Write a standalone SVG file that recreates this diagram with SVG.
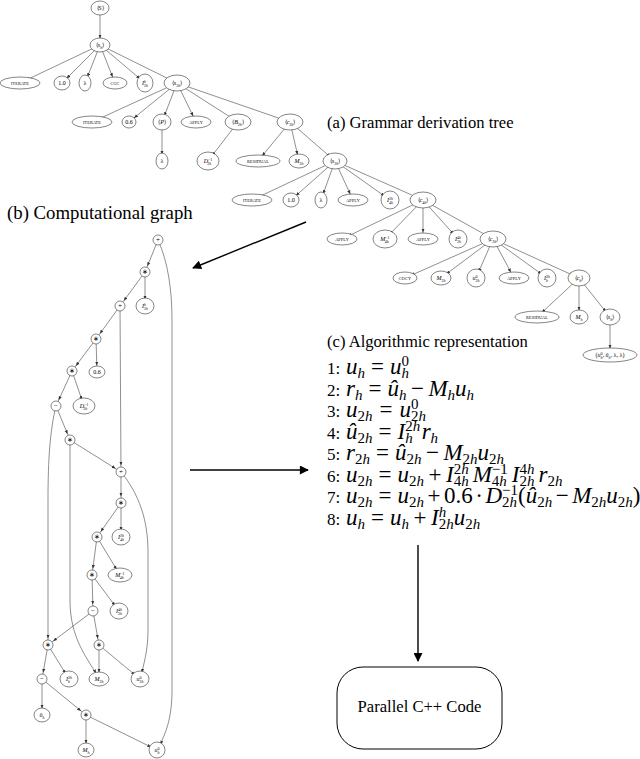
<svg xmlns="http://www.w3.org/2000/svg" width="640" height="759" viewBox="0 0 640 759">
<style>
.n{fill:#fff;stroke:#333;stroke-width:0.6}
.e{stroke:#444;stroke-width:0.6;fill:none;marker-end:url(#ah)}
.big{stroke:#000;stroke-width:1.4;fill:none;marker-end:url(#bh)}
.tc{font-family:"Liberation Serif",serif;font-size:4.3px;text-anchor:middle;letter-spacing:0.1px}
.tm{font-family:"Liberation Serif",serif;font-size:6px;text-anchor:middle}
.ts{font-size:4px}
.i{font-style:italic}
.op{font-family:"Liberation Serif",serif;font-size:7px;text-anchor:middle}
.h{font-family:"Liberation Serif",serif;font-size:16.6px}
.al{font-family:"Liberation Serif",serif;font-size:23px}
.sb{font-size:15px}
.num{font-size:17px}
</style>
<defs>
<marker id="ah" viewBox="0 0 10 10" refX="26" refY="5" markerWidth="4" markerHeight="4" markerUnits="userSpaceOnUse" orient="auto"><path d="M0,1L10,5L0,9z" fill="#333"/></marker>
<marker id="bh" viewBox="0 0 10 10" refX="9" refY="5" markerWidth="11" markerHeight="9" markerUnits="userSpaceOnUse" orient="auto"><path d="M0,0L10,5L0,10z" fill="#000"/></marker>
</defs>
<rect width="640" height="759" fill="#fff"/>

<g id="tree-edges">
<line class="e" x1="100" y1="8" x2="100" y2="45"/>
<line class="e" x1="100" y1="45" x2="20" y2="83"/>
<line class="e" x1="100" y1="45" x2="62" y2="83"/>
<line class="e" x1="100" y1="45" x2="85" y2="83"/>
<line class="e" x1="100" y1="45" x2="115" y2="83"/>
<line class="e" x1="100" y1="45" x2="145" y2="83"/>
<line class="e" x1="100" y1="45" x2="177" y2="83"/>
<line class="e" x1="177" y1="83" x2="92" y2="122"/>
<line class="e" x1="177" y1="83" x2="129" y2="122"/>
<line class="e" x1="177" y1="83" x2="162" y2="122"/>
<line class="e" x1="177" y1="83" x2="196" y2="122"/>
<line class="e" x1="177" y1="83" x2="238" y2="122"/>
<line class="e" x1="177" y1="83" x2="290" y2="122"/>
<line class="e" x1="162" y1="122" x2="162" y2="161"/>
<line class="e" x1="238" y1="122" x2="208" y2="161"/>
<line class="e" x1="290" y1="122" x2="258" y2="161"/>
<line class="e" x1="290" y1="122" x2="299" y2="161"/>
<line class="e" x1="290" y1="122" x2="335" y2="161"/>
<line class="e" x1="335" y1="161" x2="252" y2="200"/>
<line class="e" x1="335" y1="161" x2="291" y2="200"/>
<line class="e" x1="335" y1="161" x2="321" y2="200"/>
<line class="e" x1="335" y1="161" x2="353" y2="200"/>
<line class="e" x1="335" y1="161" x2="390" y2="200"/>
<line class="e" x1="335" y1="161" x2="423" y2="200"/>
<line class="e" x1="423" y1="200" x2="342" y2="239"/>
<line class="e" x1="423" y1="200" x2="385" y2="239"/>
<line class="e" x1="423" y1="200" x2="423" y2="239"/>
<line class="e" x1="423" y1="200" x2="458" y2="239"/>
<line class="e" x1="423" y1="200" x2="493" y2="239"/>
<line class="e" x1="493" y1="239" x2="405" y2="278"/>
<line class="e" x1="493" y1="239" x2="441" y2="278"/>
<line class="e" x1="493" y1="239" x2="476" y2="278"/>
<line class="e" x1="493" y1="239" x2="514" y2="278"/>
<line class="e" x1="493" y1="239" x2="547" y2="278"/>
<line class="e" x1="493" y1="239" x2="579" y2="278"/>
<line class="e" x1="579" y1="278" x2="537" y2="317"/>
<line class="e" x1="579" y1="278" x2="579" y2="317"/>
<line class="e" x1="579" y1="278" x2="610" y2="317"/>
<line class="e" x1="610" y1="317" x2="610" y2="355"/>
</g>

<g id="t-S"><ellipse class="n" cx="100" cy="8" rx="9" ry="7"/><text class="tm" x="100" y="10">⟨<tspan class="i">S</tspan>⟩</text></g>
<g id="t-sh"><ellipse class="n" cx="100" cy="45" rx="10" ry="7"/><text class="tm" x="100" y="47">⟨<tspan class="i">s</tspan><tspan class="ts i" dy="1.5">h</tspan><tspan dy="-1.5">⟩</tspan></text></g>
<g id="t-it1"><ellipse class="n" cx="20" cy="83" rx="20" ry="6"/><text class="tc" x="20" y="84.6">ITERATE</text></g>
<g id="t-n10a"><ellipse class="n" cx="62" cy="83" rx="8" ry="7"/><text class="tm" x="62" y="85">1.0</text></g>
<g id="t-lam1"><ellipse class="n" cx="85" cy="83" rx="6" ry="8"/><text class="tm" x="85" y="85">λ</text></g>
<g id="t-cgc"><ellipse class="n" cx="115" cy="83" rx="12" ry="6"/><text class="tc" x="115" y="84.6">CGC</text></g>
<g id="t-Ih2h"><ellipse class="n" cx="145" cy="83" rx="8" ry="9"/><text class="tm" x="145" y="85"><tspan class="i">I</tspan><tspan class="ts i" dy="-2.5">h</tspan><tspan class="ts" dx="-2" dy="4.5">2<tspan class="i">h</tspan></tspan></text></g>
<g id="t-s2h"><ellipse class="n" cx="177" cy="83" rx="13" ry="8"/><text class="tm" x="177" y="85">⟨<tspan class="i">s</tspan><tspan class="ts" dy="1.5">2<tspan class="i">h</tspan></tspan><tspan dy="-1.5">⟩</tspan></text></g>

<g id="t-it2"><ellipse class="n" cx="92" cy="122" rx="20" ry="6"/><text class="tc" x="92" y="123.6">ITERATE</text></g>
<g id="t-n06"><ellipse class="n" cx="129" cy="122" rx="7" ry="6"/><text class="tm" x="129" y="124">0.6</text></g>
<g id="t-P"><ellipse class="n" cx="162" cy="122" rx="9" ry="8"/><text class="tm" x="162" y="124">⟨<tspan class="i">P</tspan>⟩</text></g>
<g id="t-ap1"><ellipse class="n" cx="196" cy="122" rx="15" ry="6"/><text class="tc" x="196" y="123.6">APPLY</text></g>
<g id="t-B2h"><ellipse class="n" cx="238" cy="122" rx="13" ry="8"/><text class="tm" x="238" y="124">⟨<tspan class="i">B</tspan><tspan class="ts" dy="1.5">2<tspan class="i">h</tspan></tspan><tspan dy="-1.5">⟩</tspan></text></g>
<g id="t-c2h"><ellipse class="n" cx="290" cy="122" rx="13" ry="8"/><text class="tm" x="290" y="124">⟨<tspan class="i">c</tspan><tspan class="ts" dy="1.5">2<tspan class="i">h</tspan></tspan><tspan dy="-1.5">⟩</tspan></text></g>

<g id="t-lam2"><ellipse class="n" cx="162" cy="161" rx="6" ry="8"/><text class="tm" x="162" y="163">λ</text></g>
<g id="t-D2h"><ellipse class="n" cx="208" cy="161" rx="11" ry="9"/><text class="tm" x="208" y="163"><tspan class="i">D</tspan><tspan class="ts" dy="-2.5">−1</tspan><tspan class="ts" dx="-5" dy="4.5">2<tspan class="i">h</tspan></tspan></text></g>
<g id="t-res1"><ellipse class="n" cx="258" cy="161" rx="22" ry="6"/><text class="tc" x="258" y="162.6">RESIDUAL</text></g>
<g id="t-M2h"><ellipse class="n" cx="299" cy="161" rx="10" ry="7"/><text class="tm" x="299" y="163"><tspan class="i">M</tspan><tspan class="ts" dy="1.5">2<tspan class="i">h</tspan></tspan></text></g>
<g id="t-s2hb"><ellipse class="n" cx="335" cy="161" rx="12" ry="8"/><text class="tm" x="335" y="163">⟨<tspan class="i">s</tspan><tspan class="ts" dy="1.5">2<tspan class="i">h</tspan></tspan><tspan dy="-1.5">⟩</tspan></text></g>

<g id="t-it3"><ellipse class="n" cx="252" cy="200" rx="20" ry="6"/><text class="tc" x="252" y="201.6">ITERATE</text></g>
<g id="t-n10b"><ellipse class="n" cx="291" cy="200" rx="8" ry="7"/><text class="tm" x="291" y="202">1.0</text></g>
<g id="t-lam3"><ellipse class="n" cx="321" cy="200" rx="6" ry="8"/><text class="tm" x="321" y="202">λ</text></g>
<g id="t-ap2"><ellipse class="n" cx="353" cy="200" rx="15" ry="6"/><text class="tc" x="353" y="201.6">APPLY</text></g>
<g id="t-I2h4h"><ellipse class="n" cx="390" cy="200" rx="9" ry="9"/><text class="tm" x="390" y="202"><tspan class="i">I</tspan><tspan class="ts" dy="-2.5">2<tspan class="i">h</tspan></tspan><tspan class="ts" dx="-4" dy="4.5">4<tspan class="i">h</tspan></tspan></text></g>
<g id="t-c4h"><ellipse class="n" cx="423" cy="200" rx="13" ry="8"/><text class="tm" x="423" y="202">⟨<tspan class="i">c</tspan><tspan class="ts" dy="1.5">4<tspan class="i">h</tspan></tspan><tspan dy="-1.5">⟩</tspan></text></g>

<g id="t-ap3"><ellipse class="n" cx="342" cy="239" rx="15" ry="6"/><text class="tc" x="342" y="240.6">APPLY</text></g>
<g id="t-M4h"><ellipse class="n" cx="385" cy="239" rx="12" ry="9"/><text class="tm" x="385" y="241"><tspan class="i">M</tspan><tspan class="ts" dy="-2.5">−1</tspan><tspan class="ts" dx="-5" dy="4.5">4<tspan class="i">h</tspan></tspan></text></g>
<g id="t-ap4"><ellipse class="n" cx="423" cy="239" rx="15" ry="6"/><text class="tc" x="423" y="240.6">APPLY</text></g>
<g id="t-I4h2h"><ellipse class="n" cx="458" cy="239" rx="9" ry="9"/><text class="tm" x="458" y="241"><tspan class="i">I</tspan><tspan class="ts" dy="-2.5">4<tspan class="i">h</tspan></tspan><tspan class="ts" dx="-4" dy="4.5">2<tspan class="i">h</tspan></tspan></text></g>
<g id="t-c2hb"><ellipse class="n" cx="493" cy="239" rx="13" ry="8"/><text class="tm" x="493" y="241">⟨<tspan class="i">c</tspan><tspan class="ts" dy="1.5">2<tspan class="i">h</tspan></tspan><tspan dy="-1.5">⟩</tspan></text></g>

<g id="t-cocy"><ellipse class="n" cx="405" cy="278" rx="12" ry="6"/><text class="tc" x="405" y="279.6">COCY</text></g>
<g id="t-M2hb"><ellipse class="n" cx="441" cy="278" rx="10" ry="7"/><text class="tm" x="441" y="280"><tspan class="i">M</tspan><tspan class="ts" dy="1.5">2<tspan class="i">h</tspan></tspan></text></g>
<g id="t-u02h"><ellipse class="n" cx="476" cy="278" rx="9" ry="9"/><text class="tm" x="476" y="280"><tspan class="i">u</tspan><tspan class="ts" dy="-2.5">0</tspan><tspan class="ts" dx="-2" dy="4.5">2<tspan class="i">h</tspan></tspan></text></g>
<g id="t-ap5"><ellipse class="n" cx="514" cy="278" rx="15" ry="6"/><text class="tc" x="514" y="279.6">APPLY</text></g>
<g id="t-I2hh"><ellipse class="n" cx="547" cy="278" rx="9" ry="9"/><text class="tm" x="547" y="280"><tspan class="i">I</tspan><tspan class="ts" dy="-2.5">2<tspan class="i">h</tspan></tspan><tspan class="ts i" dx="-4" dy="4.5">h</tspan></text></g>
<g id="t-ch"><ellipse class="n" cx="579" cy="278" rx="11" ry="8"/><text class="tm" x="579" y="280">⟨<tspan class="i">c</tspan><tspan class="ts i" dy="1.5">h</tspan><tspan dy="-1.5">⟩</tspan></text></g>

<g id="t-res2"><ellipse class="n" cx="537" cy="317" rx="22" ry="6"/><text class="tc" x="537" y="318.6">RESIDUAL</text></g>
<g id="t-Mh"><ellipse class="n" cx="579" cy="317" rx="9" ry="7"/><text class="tm" x="579" y="319"><tspan class="i">M</tspan><tspan class="ts i" dy="1.5">h</tspan></text></g>
<g id="t-sh2"><ellipse class="n" cx="610" cy="317" rx="10" ry="8"/><text class="tm" x="610" y="319">⟨<tspan class="i">s</tspan><tspan class="ts i" dy="1.5">h</tspan><tspan dy="-1.5">⟩</tspan></text></g>
<g id="t-tup"><ellipse class="n" cx="610" cy="355" rx="27" ry="7"/><text class="tm" x="610" y="357">(<tspan class="i">u</tspan><tspan class="ts" dy="-2.5">0</tspan><tspan class="ts i" dx="-2" dy="4">h</tspan><tspan dy="-1.5">, </tspan><tspan class="i">û</tspan><tspan class="ts i" dy="1.5">h</tspan><tspan dy="-1.5">, λ, λ)</tspan></text></g>

<g id="headings">
<text class="h" x="327" y="128">(a) Grammar derivation tree</text>
<text class="h" x="7" y="219" style="font-size:18.8px">(b) Computational graph</text>
<text class="h" x="327" y="347">(c) Algorithmic representation</text>
</g>

<g id="graph-edges">
<line class="e" x1="158" y1="240" x2="145" y2="272"/>
<path class="e" d="M158,240 C168,262 172,290 172,320 L172,690 C172,718 166,734 157,750"/>
<line class="e" x1="145" y1="272" x2="120" y2="306"/>
<line class="e" x1="145" y1="272" x2="145" y2="306"/>
<line class="e" x1="120" y1="306" x2="96" y2="339"/>
<line class="e" x1="120" y1="306" x2="121" y2="472"/>
<line class="e" x1="96" y1="339" x2="72" y2="371"/>
<line class="e" x1="96" y1="339" x2="97" y2="372"/>
<line class="e" x1="72" y1="371" x2="56" y2="406"/>
<line class="e" x1="72" y1="371" x2="84" y2="406"/>
<line class="e" x1="56" y1="406" x2="70" y2="440"/>
<path class="e" d="M56,406 C50,430 48,460 48,500 L48,645"/>
<line class="e" x1="70" y1="440" x2="121" y2="472"/>
<path class="e" d="M70,440 L70,600 C70,640 88,658 99,679"/>
<line class="e" x1="121" y1="472" x2="121" y2="503"/>
<path class="e" d="M121,472 C139,494 148,520 148,552 L148,630 C148,650 144,664 140,679"/>
<line class="e" x1="121" y1="503" x2="97" y2="537"/>
<line class="e" x1="121" y1="503" x2="121" y2="537"/>
<line class="e" x1="97" y1="537" x2="92" y2="575"/>
<line class="e" x1="97" y1="537" x2="120" y2="575"/>
<line class="e" x1="92" y1="575" x2="93" y2="611"/>
<line class="e" x1="92" y1="575" x2="119" y2="611"/>
<line class="e" x1="93" y1="611" x2="48" y2="645"/>
<line class="e" x1="93" y1="611" x2="99" y2="645"/>
<line class="e" x1="48" y1="645" x2="42" y2="679"/>
<line class="e" x1="48" y1="645" x2="69" y2="679"/>
<line class="e" x1="99" y1="645" x2="99" y2="679"/>
<line class="e" x1="99" y1="645" x2="140" y2="679"/>
<line class="e" x1="42" y1="679" x2="42" y2="715"/>
<line class="e" x1="42" y1="679" x2="86" y2="715"/>
<line class="e" x1="86" y1="715" x2="86" y2="750"/>
<line class="e" x1="86" y1="715" x2="157" y2="750"/>
</g>

<g id="g-p1"><circle class="n" cx="158" cy="240" r="5"/><text class="op" x="158" y="242.4">+</text></g>
<g id="g-m1"><circle class="n" cx="145" cy="272" r="5"/><text class="op" x="145" y="274.4">∗</text></g>
<g id="g-p2"><circle class="n" cx="120" cy="306" r="5"/><text class="op" x="120" y="308.4">+</text></g>
<g id="g-m2"><circle class="n" cx="96" cy="339" r="5"/><text class="op" x="96" y="341.4">∗</text></g>
<g id="g-m3"><circle class="n" cx="72" cy="371" r="5"/><text class="op" x="72" y="373.4">∗</text></g>
<g id="g-s1"><circle class="n" cx="56" cy="406" r="5"/><text class="op" x="56" y="408.4">−</text></g>
<g id="g-m4"><circle class="n" cx="70" cy="440" r="5"/><text class="op" x="70" y="442.4">∗</text></g>
<g id="g-p3"><circle class="n" cx="121" cy="472" r="5"/><text class="op" x="121" y="474.4">+</text></g>
<g id="g-m5"><circle class="n" cx="121" cy="503" r="5"/><text class="op" x="121" y="505.4">∗</text></g>
<g id="g-m6"><circle class="n" cx="97" cy="537" r="5"/><text class="op" x="97" y="539.4">∗</text></g>
<g id="g-m7"><circle class="n" cx="92" cy="575" r="5"/><text class="op" x="92" y="577.4">∗</text></g>
<g id="g-s2"><circle class="n" cx="93" cy="611" r="5"/><text class="op" x="93" y="613.4">−</text></g>
<g id="g-m8"><circle class="n" cx="48" cy="645" r="5"/><text class="op" x="48" y="647.4">∗</text></g>
<g id="g-m9"><circle class="n" cx="99" cy="645" r="5"/><text class="op" x="99" y="647.4">∗</text></g>
<g id="g-s3"><circle class="n" cx="42" cy="679" r="5"/><text class="op" x="42" y="681.4">−</text></g>
<g id="g-m10"><circle class="n" cx="86" cy="715" r="5"/><text class="op" x="86" y="717.4">∗</text></g>

<g id="g-I1"><ellipse class="n" cx="145" cy="306" rx="9" ry="8"/><text class="tm" x="145" y="308"><tspan class="i">I</tspan><tspan class="ts i" dy="-2.5">h</tspan><tspan class="ts" dx="-2" dy="4.5">2<tspan class="i">h</tspan></tspan></text></g>
<g id="g-06"><ellipse class="n" cx="97" cy="372" rx="8" ry="6"/><text class="tm" x="97" y="374">0.6</text></g>
<g id="g-D"><ellipse class="n" cx="84" cy="406" rx="11" ry="8"/><text class="tm" x="84" y="408"><tspan class="i">D</tspan><tspan class="ts" dy="-2.5">−1</tspan><tspan class="ts" dx="-5" dy="4.5">2<tspan class="i">h</tspan></tspan></text></g>
<g id="g-I2"><ellipse class="n" cx="121" cy="537" rx="9" ry="8"/><text class="tm" x="121" y="539"><tspan class="i">I</tspan><tspan class="ts" dy="-2.5">2<tspan class="i">h</tspan></tspan><tspan class="ts" dx="-4" dy="4.5">4<tspan class="i">h</tspan></tspan></text></g>
<g id="g-M4"><ellipse class="n" cx="120" cy="575" rx="12" ry="7"/><text class="tm" x="120" y="577"><tspan class="i">M</tspan><tspan class="ts" dy="-2.5">−1</tspan><tspan class="ts" dx="-5" dy="4.5">4<tspan class="i">h</tspan></tspan></text></g>
<g id="g-I3"><ellipse class="n" cx="119" cy="611" rx="9" ry="8"/><text class="tm" x="119" y="613"><tspan class="i">I</tspan><tspan class="ts" dy="-2.5">4<tspan class="i">h</tspan></tspan><tspan class="ts" dx="-4" dy="4.5">2<tspan class="i">h</tspan></tspan></text></g>
<g id="g-I4"><ellipse class="n" cx="69" cy="679" rx="9" ry="8"/><text class="tm" x="69" y="681"><tspan class="i">I</tspan><tspan class="ts" dy="-2.5">2<tspan class="i">h</tspan></tspan><tspan class="ts i" dx="-4" dy="4.5">h</tspan></text></g>
<g id="g-M2"><ellipse class="n" cx="99" cy="679" rx="10" ry="7"/><text class="tm" x="99" y="681"><tspan class="i">M</tspan><tspan class="ts" dy="1.5">2<tspan class="i">h</tspan></tspan></text></g>
<g id="g-u2"><ellipse class="n" cx="140" cy="679" rx="9" ry="8"/><text class="tm" x="140" y="681"><tspan class="i">u</tspan><tspan class="ts" dy="-2.5">0</tspan><tspan class="ts" dx="-2" dy="4.5">2<tspan class="i">h</tspan></tspan></text></g>
<g id="g-uh"><ellipse class="n" cx="42" cy="715" rx="8" ry="7"/><text class="tm" x="42" y="717"><tspan class="i">û</tspan><tspan class="ts i" dy="1.5">h</tspan></text></g>
<g id="g-Mh"><ellipse class="n" cx="86" cy="750" rx="8" ry="7"/><text class="tm" x="86" y="752"><tspan class="i">M</tspan><tspan class="ts i" dy="1.5">h</tspan></text></g>
<g id="g-u0"><ellipse class="n" cx="157" cy="750" rx="8" ry="8"/><text class="tm" x="157" y="752"><tspan class="i">u</tspan><tspan class="ts" dy="-2.5">0</tspan><tspan class="ts i" dx="-2" dy="4.5">h</tspan></text></g>

<g id="arrows">
<line class="big" x1="306" y1="222" x2="193" y2="268"/>
<line class="big" x1="190" y1="470" x2="308" y2="470"/>
<line class="big" x1="418" y1="545" x2="418" y2="661"/>
</g>

<g id="algorithm" class="al">
<text y="374"><tspan x="327" class="num">1:</tspan><tspan x="346" class="i">u</tspan><tspan class="sb i" dy="4">h</tspan><tspan dy="-4" dx="6">=</tspan><tspan dx="6" class="i">u</tspan><tspan class="sb" dy="-8">0</tspan><tspan class="sb i" dx="-7.5" dy="12">h</tspan></text>
<text y="395.5"><tspan x="327" class="num">2:</tspan><tspan x="346" class="i">r</tspan><tspan class="sb i" dy="4">h</tspan><tspan dy="-4" dx="6">=</tspan><tspan dx="6" class="i">û</tspan><tspan class="sb i" dy="4">h</tspan><tspan dy="-4" dx="4.5">−</tspan><tspan dx="4.5" class="i">M</tspan><tspan class="sb i" dy="4">h</tspan><tspan dy="-4" class="i">u</tspan><tspan class="sb i" dy="4">h</tspan></text>
<text y="417"><tspan x="327" class="num">3:</tspan><tspan x="346" class="i">u</tspan><tspan class="sb" dy="4">2<tspan class="i">h</tspan></tspan><tspan dy="-4" dx="7">=</tspan><tspan dx="7" class="i">u</tspan><tspan class="sb" dy="-8">0</tspan><tspan class="sb" dx="-7.5" dy="12">2<tspan class="i">h</tspan></tspan></text>
<text y="438.5"><tspan x="327" class="num">4:</tspan><tspan x="346" class="i">û</tspan><tspan class="sb" dy="4">2<tspan class="i">h</tspan></tspan><tspan dy="-4" dx="6">=</tspan><tspan dx="6" class="i">I</tspan><tspan class="sb" dy="-8">2<tspan class="i">h</tspan></tspan><tspan class="sb i" dx="-15" dy="12">h</tspan><tspan dy="-4" dx="9" class="i">r</tspan><tspan class="sb i" dy="4">h</tspan></text>
<text y="460"><tspan x="327" class="num">5:</tspan><tspan x="346" class="i">r</tspan><tspan class="sb" dy="4">2<tspan class="i">h</tspan></tspan><tspan dy="-4" dx="6">=</tspan><tspan dx="6" class="i">û</tspan><tspan class="sb" dy="4">2<tspan class="i">h</tspan></tspan><tspan dy="-4" dx="4.5">−</tspan><tspan dx="4.5" class="i">M</tspan><tspan class="sb" dy="4">2<tspan class="i">h</tspan></tspan><tspan dy="-4" class="i">u</tspan><tspan class="sb" dy="4">2<tspan class="i">h</tspan></tspan></text>
<text y="481.5"><tspan x="327" class="num">6:</tspan><tspan x="346" class="i">u</tspan><tspan class="sb" dy="4">2<tspan class="i">h</tspan></tspan><tspan dy="-4" dx="6">=</tspan><tspan dx="6" class="i">u</tspan><tspan class="sb" dy="4">2<tspan class="i">h</tspan></tspan><tspan dy="-4" dx="4.5">+</tspan><tspan dx="4.5" class="i">I</tspan><tspan class="sb" dy="-8">2<tspan class="i">h</tspan></tspan><tspan class="sb" dx="-15" dy="12">4<tspan class="i">h</tspan></tspan><tspan dy="-4" dx="4" class="i">M</tspan><tspan class="sb" dy="-8">−1</tspan><tspan class="sb" dx="-16" dy="12">4<tspan class="i">h</tspan></tspan><tspan dy="-4" dx="5" class="i">I</tspan><tspan class="sb" dy="-8">4<tspan class="i">h</tspan></tspan><tspan class="sb" dx="-15" dy="12">2<tspan class="i">h</tspan></tspan><tspan dy="-4" dx="4" class="i">r</tspan><tspan class="sb" dy="4">2<tspan class="i">h</tspan></tspan></text>
<text y="503"><tspan x="327" class="num">7:</tspan><tspan x="346" class="i">u</tspan><tspan class="sb" dy="4">2<tspan class="i">h</tspan></tspan><tspan dy="-4" dx="6">=</tspan><tspan dx="6" class="i">u</tspan><tspan class="sb" dy="4">2<tspan class="i">h</tspan></tspan><tspan dy="-4" dx="3.5">+</tspan><tspan dx="3.5">0.6</tspan><tspan dx="2.5">·</tspan><tspan dx="2.5" class="i">D</tspan><tspan class="sb" dy="-8">−1</tspan><tspan class="sb" dx="-16" dy="12">2<tspan class="i">h</tspan></tspan><tspan dy="-4" dx="1">(</tspan><tspan class="i">û</tspan><tspan class="sb" dy="4">2<tspan class="i">h</tspan></tspan><tspan dy="-4" dx="3.5">−</tspan><tspan dx="3.5" class="i">M</tspan><tspan class="sb" dy="4">2<tspan class="i">h</tspan></tspan><tspan dy="-4" class="i">u</tspan><tspan class="sb" dy="4">2<tspan class="i">h</tspan></tspan><tspan dy="-4">)</tspan></text>
<text y="524.5"><tspan x="327" class="num">8:</tspan><tspan x="346" class="i">u</tspan><tspan class="sb i" dy="4">h</tspan><tspan dy="-4" dx="6">=</tspan><tspan dx="6" class="i">u</tspan><tspan class="sb i" dy="4">h</tspan><tspan dy="-4" dx="4.5">+</tspan><tspan dx="4.5" class="i">I</tspan><tspan class="sb i" dy="-8">h</tspan><tspan class="sb" dx="-7.5" dy="12">2<tspan class="i">h</tspan></tspan><tspan dy="-4" class="i">u</tspan><tspan class="sb" dy="4">2<tspan class="i">h</tspan></tspan></text>
</g>

<g id="code">
<rect x="337" y="667" width="165" height="82" rx="26" ry="26" fill="#fff" stroke="#000" stroke-width="1"/>
<text x="419.5" y="712" font-family="Liberation Serif, serif" font-size="16.6" text-anchor="middle">Parallel C++ Code</text>
</g>
</svg>
